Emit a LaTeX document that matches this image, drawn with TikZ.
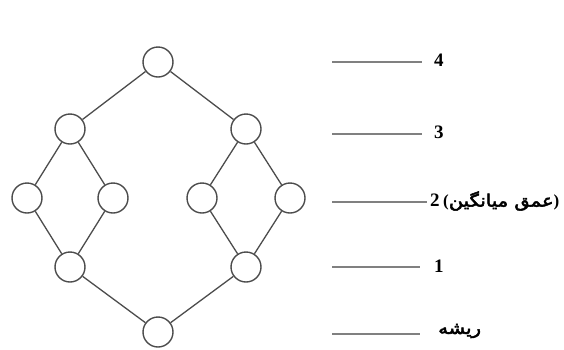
\documentclass[tikz,border=0pt]{standalone}
\usepackage{fontspec}
\setmainfont{Liberation Serif}
\newfontfamily\arabicfont[Script=Arabic,FakeBold=3,FakeStretch=1.15]{DejaVu Sans}
\TeXXeTstate=1
\begin{document}
\begin{tikzpicture}[x=1pt,y=-1pt,
  vert/.style={circle,draw=black!70,line width=1.4pt,minimum size=30pt,inner sep=0pt},
  edge/.style={draw=black!70,line width=1.3pt},
  level/.style={draw=black!50,line width=1.2pt},
  lab/.style={anchor=west,inner sep=0pt,font=\fontsize{19}{21}\selectfont\bfseries},
  ar/.style={anchor=west,inner sep=0pt,font=\fontsize{17}{19}\selectfont\arabicfont}]
\useasboundingbox (0,0) rectangle (564,349);
% vertices
\node[vert] (t)  at (158,62) {};
\node[vert] (a)  at (70,129) {};
\node[vert] (b)  at (246,129) {};
\node[vert] (a1) at (27,198) {};
\node[vert] (a2) at (113,198) {};
\node[vert] (b1) at (202,198) {};
\node[vert] (b2) at (290,198) {};
\node[vert] (c)  at (70,267) {};
\node[vert] (d)  at (246,267) {};
\node[vert] (r)  at (158,332) {};
% edges
\draw[edge] (t) -- (a);
\draw[edge] (t) -- (b);
\draw[edge] (a) -- (a1);
\draw[edge] (a) -- (a2);
\draw[edge] (b) -- (b1);
\draw[edge] (b) -- (b2);
\draw[edge] (a1) -- (c);
\draw[edge] (a2) -- (c);
\draw[edge] (b1) -- (d);
\draw[edge] (b2) -- (d);
\draw[edge] (c) -- (r);
\draw[edge] (d) -- (r);
% level lines
\coordinate (l4a) at (332,62);  \coordinate (l4b) at (422,62);
\coordinate (l3a) at (332,134); \coordinate (l3b) at (422,134);
\coordinate (l2a) at (332,202); \coordinate (l2b) at (427,202);
\coordinate (l1a) at (332,267); \coordinate (l1b) at (420,267);
\coordinate (l0a) at (332,334); \coordinate (l0b) at (420,334);
\draw[level] (l4a) -- (l4b);
\draw[level] (l3a) -- (l3b);
\draw[level] (l2a) -- (l2b);
\draw[level] (l1a) -- (l1b);
\draw[level] (l0a) -- (l0b);
% labels
\node[lab] (n4) at (434,60) {4};
\node[lab] (n3) at (434,132) {3};
\node[lab] (n2) at (430,200) {2};
\node[ar] (n2t) at (443,201) {{\rmfamily\bfseries(}\beginR عمق میانگین\endR{\rmfamily\bfseries)}};
\node[lab] (n1) at (434,266) {1};
\node[ar] (n0) at (438,331) {\beginR ریشه\endR};
\end{tikzpicture}
\end{document}
